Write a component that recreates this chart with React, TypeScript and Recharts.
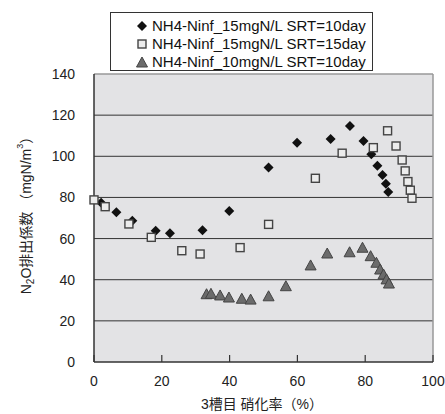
import React from "react";
import {
  ScatterChart,
  Scatter,
  XAxis,
  YAxis,
  CartesianGrid,
  ReferenceLine,
} from "recharts";

const FONT = "'Liberation Sans', 'Noto Sans CJK JP', sans-serif";

const SERIES_NAMES = [
  "NH4-Ninf_15mgN/L SRT=10day",
  "NH4-Ninf_15mgN/L SRT=15day",
  "NH4-Ninf_10mgN/L SRT=10day",
];

// series 1: diamonds
const s1X = [2.1, 6.6, 11.3, 18.2, 22.4, 32, 39.9, 51.5, 59.9, 69.8, 75.5, 79.5, 81.8, 83.6, 85.1, 86.1, 86.8];
const s1Y = [77.4, 72.8, 68.7, 63.8, 62.6, 64, 73.4, 94.5, 106.6, 108.4, 114.7, 107.4, 101, 95.4, 90.9, 86.7, 82.6];

// series 2: squares
const s2X = [0, 3.3, 10.3, 16.9, 25.9, 31.3, 43.1, 51.5, 65.3, 73.2, 82.4, 86.6, 89.1, 90.9, 91.8, 92.6, 93.3, 93.8];
const s2Y = [78.8, 75.5, 67.1, 60.6, 54.1, 52.5, 55.6, 66.9, 89.3, 101.5, 104.2, 112.4, 105, 98.2, 92.9, 87.7, 83.5, 79.6];

// series 3: triangles
const s3X = [33.2, 34.5, 37.2, 39.8, 43.6, 46.2, 51.5, 56.6, 63.9, 68.8, 75.4, 79.2, 81.6, 83.3, 84.4, 85.4, 86.3, 87];
const s3Y = [32.7, 32.9, 32.1, 31.1, 30.5, 30.1, 31.7, 36.6, 46.7, 52.5, 53.1, 55.3, 51.2, 48, 44.7, 42.3, 39.9, 37.9];

const xTicks = [0, 20, 40, 60, 80, 100];
const yTicks = [0, 20, 40, 60, 80, 100, 120, 140];
const gridValues = [20, 40, 60, 80, 100, 120];

const zip = (xs: number[], ys: number[]) => xs.map((x, i) => ({ x, y: ys[i] }));

const Diamond = ({ cx, cy }: any) => (
  <polygon
    points={`${cx},${cy - 5} ${cx + 5},${cy} ${cx},${cy + 5} ${cx - 5},${cy}`}
    fill="#111"
  />
);

const Square = ({ cx, cy }: any) => (
  <rect x={cx - 4} y={cy - 4} width={8} height={8} fill="#ececec" stroke="#444" strokeWidth={1.4} />
);

const Triangle = ({ cx, cy }: any) => (
  <polygon
    points={`${cx},${cy - 6} ${cx + 5.5},${cy + 4} ${cx - 5.5},${cy + 4}`}
    fill="#6b6b6b"
    stroke="#444"
    strokeWidth={1}
  />
);

const XTick = ({ x, y, payload }: any) => (
  <g>
    <line x1={x} x2={x} y1={y - 14} y2={y - 21} stroke="#333" strokeWidth={1.2} />
    <text x={x} y={y} dy="0.71em" textAnchor="middle" fontSize={14} fill="#222" fontFamily={FONT}>
      {payload.value}
    </text>
  </g>
);

const YTitle = () => (
  <text
    x={27}
    y={212}
    transform="rotate(-90 27 212)"
    textAnchor="middle"
    dominantBaseline="middle"
    fontSize={14}
    fill="#222"
    fontFamily={FONT}
  >
    N<tspan fontSize={10} dy={4}>2</tspan>
    <tspan dy={-4}>O排出係数 （mgN/m</tspan>
    <tspan fontSize={9} dy={-6}>3</tspan>
    <tspan dy={6}>）</tspan>
  </text>
);

const XTitle = () => (
  <text x={262} y={405} textAnchor="middle" dominantBaseline="middle" fontSize={14} fill="#222" fontFamily={FONT}>
    3槽目 硝化率（%）
  </text>
);

const LegendMarker = ({ i }: { i: number }) => (
  <svg width={14} height={14} style={{ position: "absolute", left: 24, top: 2 }}>
    {i === 0 && <Diamond cx={7} cy={7} />}
    {i === 1 && <Square cx={7} cy={7} />}
    {i === 2 && <Triangle cx={7} cy={8} />}
  </svg>
);

export default function App() {
  return (
    <div style={{ position: "absolute", left: 0, top: 0, width: 445, height: 414, background: "#fff" }}>
      <ScatterChart width={445} height={414} margin={{ top: 74, right: 12, bottom: 0, left: 34 }}>
        <CartesianGrid
          vertical={false}
          horizontalValues={gridValues}
          stroke="#333"
          fill="#e3e3e5"
          fillOpacity={1}
        />
        <ReferenceLine y={140} stroke="#999" strokeWidth={1.5} />
        <ReferenceLine x={100} stroke="#999" strokeWidth={1.5} />
        <XAxis
          type="number"
          dataKey="x"
          domain={[0, 100]}
          ticks={xTicks}
          height={52}
          tickSize={0}
          tickMargin={14}
          tickLine={false}
          axisLine={{ stroke: "#333", strokeWidth: 1.5 }}
          tick={<XTick />}
          label={<XTitle />}
        />
        <YAxis
          type="number"
          dataKey="y"
          domain={[0, 140]}
          ticks={yTicks}
          width={60}
          tickSize={5}
          tickMargin={14}
          tickLine={false}
          axisLine={{ stroke: "#333", strokeWidth: 1.5 }}
          tick={{ fontSize: 14, fill: "#222", fontFamily: FONT }}
          label={<YTitle />}
        />
        <Scatter name={SERIES_NAMES[0]} data={zip(s1X, s1Y)} shape={<Diamond />} isAnimationActive={false} />
        <Scatter name={SERIES_NAMES[1]} data={zip(s2X, s2Y)} shape={<Square />} isAnimationActive={false} />
        <Scatter name={SERIES_NAMES[2]} data={zip(s3X, s3Y)} shape={<Triangle />} isAnimationActive={false} />
      </ScatterChart>

      <div
        style={{
          position: "absolute",
          left: 110,
          top: 12,
          width: 261,
          height: 57,
          border: "1px solid #333",
          background: "#fff",
          fontFamily: FONT,
          fontSize: 15,
          color: "#111",
        }}
      >
        {SERIES_NAMES.map((name, i) => (
          <div key={name} style={{ position: "absolute", left: 0, top: 4 + i * 18, height: 18, width: "100%" }}>
            <LegendMarker i={i} />
            <span style={{ position: "absolute", left: 41, top: 0, lineHeight: "18px", whiteSpace: "nowrap" }}>
              {name}
            </span>
          </div>
        ))}
      </div>
    </div>
  );
}
